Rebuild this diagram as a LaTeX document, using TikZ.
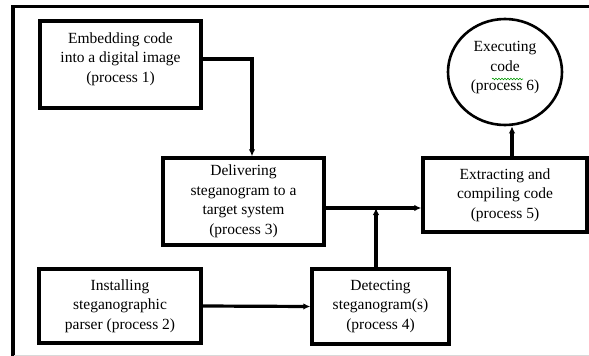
\documentclass[tikz,border=0pt]{standalone}
\usepackage{fontspec}
\setmainfont{Liberation Serif}
\usetikzlibrary{arrows.meta,calc,shapes.geometric,decorations.pathmorphing}
\begin{document}
\begin{tikzpicture}[x=1pt,y=-1pt,
  box/.style={draw=black,line width=3.4pt,rectangle,inner sep=0pt},
  txt/.style={align=center,font=\fontsize{15.5}{19.5}\selectfont,inner sep=0pt},
  conn/.style={line width=3.2pt,-{Latex[length=7pt,width=6.5pt]}},
]
\useasboundingbox (0,0) rectangle (589,356);
% frame
\draw[line width=3.4pt] (12,6.5) -- (589,6.5);
\draw[line width=3.2pt] (13,5) -- (13,356);
\draw[line width=0.8pt,black!15] (14,355) -- (589,355);
% boxes
\node[box,minimum width=161pt,minimum height=87pt] (p1) at (120.5,64.5) {};
\node[txt] (p1t) at (120.5,59) {Embedding code\\into a digital image\\(process 1)};
\node[box,minimum width=161pt,minimum height=87pt,txt] (p3) at (243.5,201.5) {Delivering\\steganogram to a\\target system\\(process 3)};
\node[box,minimum width=162pt,minimum height=74pt,txt] (p2) at (120,306) {Installing\\steganographic\\parser (process 2)};
\node[box,minimum width=137pt,minimum height=75pt,txt] (p4) at (380.5,306.5) {Detecting\\steganogram(s)\\(process 4)};
\node[box,minimum width=164pt,minimum height=74pt,txt] (p5) at (505,195) {Extracting and\\compiling code\\(process 5)};
\node[draw=black,line width=2.6pt,ellipse,minimum width=114pt,minimum height=106pt,inner sep=0pt] (p6) at (505,72) {};
\node[txt] (p6t) at (505,68) {Executing\\code\\(process 6)};
\draw[green!60!black,line width=0.6pt,decorate,decoration={snake,amplitude=0.8pt,segment length=3pt}] (492,79) -- (523,79);
% connectors
\coordinate (j) at (376,208);
\draw[conn] ($(p1.east)+(0,-5.5)$) -| (p3.north -| 252,0);
\draw[conn] (p2.east) -- (p4.west);
\draw[conn] (p4.north -| j) -- (j);
\draw[conn] (p3.east |- j) -- (p5.west |- j);
\draw[conn] (p5.north -| 512,0) -- (p6.south -| 512,0);
\end{tikzpicture}
\end{document}
